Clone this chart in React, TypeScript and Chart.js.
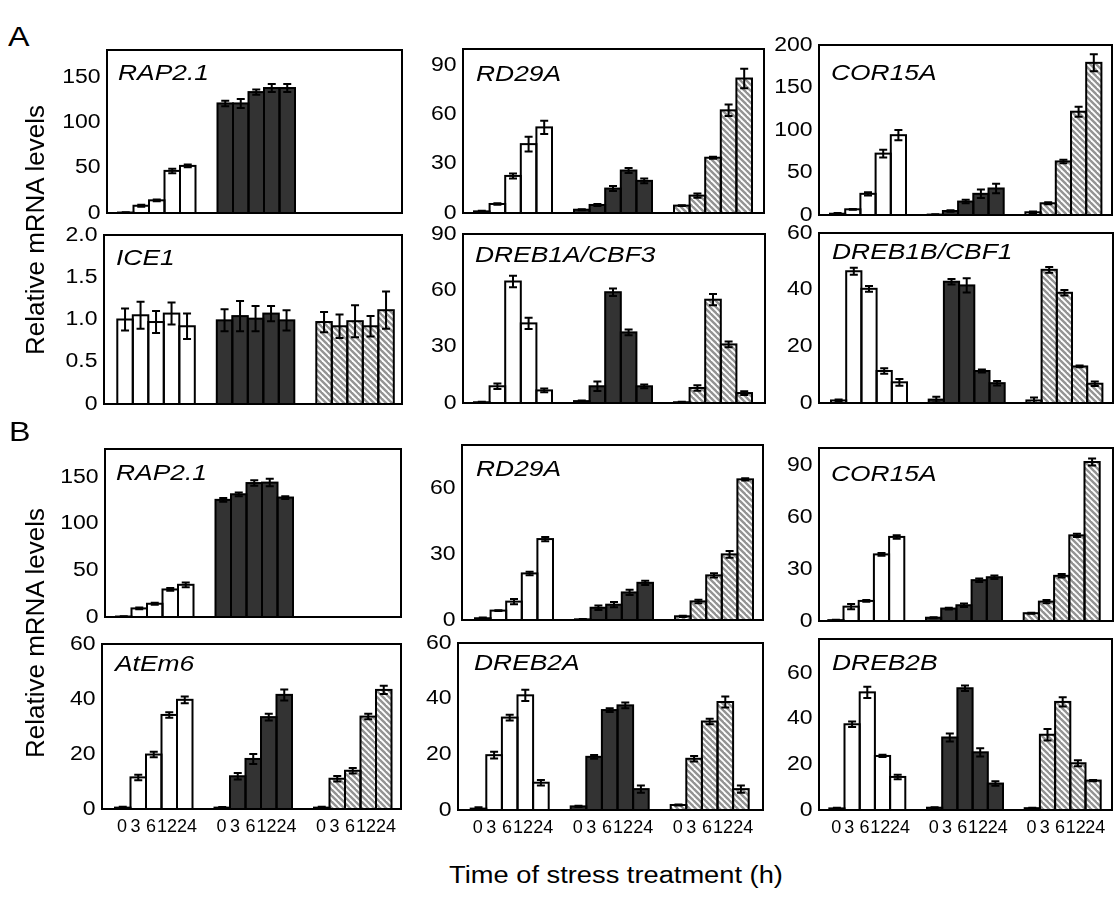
import React, { useEffect, useRef } from 'react';
import { Chart, registerables } from 'chart.js';

Chart.register(...registerables);

const FONT = '"Liberation Sans", Arial, Helvetica, sans-serif';

// ---------- data ----------
const TIME_LABELS = ['0', '3', '6', '12', '24'];
const TREATMENTS = ['white', 'dark', 'hatched'];
const NONE = [null, null, null, null, null];

// A: RAP2.1
const A_RAP21_MEANS = [[0.5, 8, 14, 46.5, 52], [121, 121, 133.5, 138, 138], NONE];
const A_RAP21_ERR = [[0.3, 1.2, 1, 2.5, 1.5], [3, 5, 3, 4.5, 4.5], NONE];
// A: RD29A
const A_RD29A_MEANS = [[1, 5.5, 22.6, 42, 52.2], [2, 4.9, 14.9, 25.9, 19.6], [4.5, 10.6, 33.7, 62.6, 82]];
const A_RD29A_ERR = [[0.3, 0.5, 1.5, 4.5, 4], [0.3, 0.6, 1.5, 1.5, 1.5], [0.3, 1.3, 0.6, 3.5, 6]];
// A: COR15A
const A_COR15A_MEANS = [[1.5, 6.7, 24.9, 72.2, 93.9], [0.5, 4.7, 15.8, 24.9, 31.2], [3.2, 13.8, 63, 121.5, 179]];
const A_COR15A_ERR = [[0.8, 0.5, 2, 4.5, 6], [0.3, 0.8, 2, 5, 5.5], [1, 1.2, 2, 6, 10]];
// A: ICE1
const A_ICE1_MEANS = [[1.0, 1.05, 0.97, 1.07, 0.92], [0.99, 1.04, 1.01, 1.07, 0.99], [0.97, 0.92, 0.98, 0.92, 1.11]];
const A_ICE1_ERR = [[0.13, 0.16, 0.13, 0.13, 0.15], [0.13, 0.18, 0.15, 0.09, 0.12], [0.12, 0.14, 0.19, 0.12, 0.22]];
// A: DREB1A/CBF3
const A_DREB1A_MEANS = [[0.4, 8.9, 64.7, 42.4, 6.7], [1, 8.9, 59, 37.6, 8.9], [0.4, 8, 55, 31.2, 5.3]];
const A_DREB1A_ERR = [[0.3, 1.5, 3, 3, 1], [0.3, 2.5, 2, 1.5, 1], [0.3, 1.5, 3, 1.5, 1]];
// A: DREB1B/CBF1
const A_DREB1B_MEANS = [[0.9, 46.5, 40.3, 11.3, 7.3], [1.2, 42.8, 41.5, 11.3, 7], [0.9, 47, 38.9, 12.9, 6.8]];
const A_DREB1B_ERR = [[0.3, 1.2, 1, 1, 1.2], [1, 1, 2.5, 0.5, 0.8], [1, 1, 1, 0.3, 0.8]];
// B: RAP2.1
const B_RAP21_MEANS = [[0.5, 9.2, 14.2, 29.5, 34.5], [125.5, 131.5, 143.5, 144, 128], NONE];
const B_RAP21_ERR = [[0.3, 1, 1, 1.5, 2.5], [2, 2, 3, 4, 1.5], NONE];
// B: RD29A
const B_RD29A_MEANS = [[0.8, 4.3, 8.4, 21.3, 37], [0.3, 5.6, 7, 12.6, 17], [1.7, 8.5, 20.4, 30, 64.3]];
const B_RD29A_ERR = [[0.3, 0.2, 1.2, 0.8, 1], [0.2, 1, 1.2, 1.2, 1], [0.3, 0.8, 1, 1.5, 0.5]];
// B: COR15A
const B_COR15A_MEANS = [[0.5, 8.3, 11.6, 38.5, 48.6], [1.9, 7.2, 9.1, 23.6, 25.3], [4.5, 11.2, 26.1, 49.5, 91.9]];
const B_COR15A_ERR = [[0.2, 1.5, 0.5, 0.8, 1], [0.3, 0.5, 1, 1, 1], [0.3, 1, 1, 1, 2]];
// B: AtEm6
const B_ATEM6_MEANS = [[0.5, 11.5, 19.8, 34.2, 39.7], [0.5, 11.9, 18.2, 33.4, 41.5], [0.5, 11, 13.9, 33.6, 43.3]];
const B_ATEM6_ERR = [[0.3, 1, 1, 1, 1.2], [0.2, 1.2, 1.8, 1.2, 2], [0.3, 1, 1, 1, 1.5]];
// B: DREB2A
const B_DREB2A_MEANS = [[0.5, 19.7, 33.2, 41.2, 9.8], [1.3, 19.1, 35.9, 37.6, 7.5], [1.8, 18.4, 31.8, 38.8, 7.5]];
const B_DREB2A_ERR = [[0.5, 1.2, 1, 2, 1], [0.2, 0.7, 0.7, 1, 1.3], [0.2, 1, 1, 2, 1.3]];
// B: DREB2B
const B_DREB2B_MEANS = [[0.7, 37.6, 51.6, 23.7, 14.5], [1, 31.8, 53.4, 25.3, 11.6], [0.8, 33, 47.4, 20.5, 12.9]];
const B_DREB2B_ERR = [[0.3, 1.2, 2.5, 0.5, 1], [0.2, 1.8, 1.2, 1.8, 1], [0.2, 2.5, 2, 1.3, 0.3]];

// y-axis ticks
const TICKS_150 = [0, 50, 100, 150];
const TICKS_90 = [0, 30, 60, 90];
const TICKS_60_30 = [0, 30, 60];
const TICKS_200 = [0, 50, 100, 150, 200];
const TICKS_ICE1 = [0, 0.5, 1.0, 1.5, 2.0];
const TICKS_60 = [0, 20, 40, 60];

const PANELS = [
  { gene: 'RAP2.1', means: A_RAP21_MEANS, errs: A_RAP21_ERR, yMax: 180, ticks: TICKS_150, dec: 0 },
  { gene: 'RD29A', means: A_RD29A_MEANS, errs: A_RD29A_ERR, yMax: 100, ticks: TICKS_90, dec: 0 },
  { gene: 'COR15A', means: A_COR15A_MEANS, errs: A_COR15A_ERR, yMax: 200, ticks: TICKS_200, dec: 0 },
  { gene: 'ICE1', means: A_ICE1_MEANS, errs: A_ICE1_ERR, yMax: 2, ticks: TICKS_ICE1, dec: 1 },
  { gene: 'DREB1A/CBF3', means: A_DREB1A_MEANS, errs: A_DREB1A_ERR, yMax: 90, ticks: TICKS_90, dec: 0 },
  { gene: 'DREB1B/CBF1', means: A_DREB1B_MEANS, errs: A_DREB1B_ERR, yMax: 60, ticks: TICKS_60, dec: 0 },
  { gene: 'RAP2.1', means: B_RAP21_MEANS, errs: B_RAP21_ERR, yMax: 180, ticks: TICKS_150, dec: 0 },
  { gene: 'RD29A', means: B_RD29A_MEANS, errs: B_RD29A_ERR, yMax: 80, ticks: TICKS_60_30, dec: 0 },
  { gene: 'COR15A', means: B_COR15A_MEANS, errs: B_COR15A_ERR, yMax: 100, ticks: TICKS_90, dec: 0 },
  { gene: 'AtEm6', means: B_ATEM6_MEANS, errs: B_ATEM6_ERR, yMax: 60, ticks: TICKS_60, dec: 0 },
  { gene: 'DREB2A', means: B_DREB2A_MEANS, errs: B_DREB2A_ERR, yMax: 60, ticks: TICKS_60, dec: 0 },
  { gene: 'DREB2B', means: B_DREB2B_MEANS, errs: B_DREB2B_ERR, yMax: 75, ticks: TICKS_60, dec: 0 },
];

// ---------- layout (pixels) ----------
const COLS = [
  { bw: 15.5, period: 99.5 },
  { bw: 15.6, period: 100 },
  { bw: 15.2, period: 97.7 },
];
// small horizontal nudges of the hour labels (px), as they sit in the figure
const TICK_NUDGE = [-0.75, -2.75, -2.75, -2.25, 2.25];
// box: l,t,r,b ; x0 = first bar left offset ; tdx/tdy = gene label offset
const LAYOUT = [
  { l: 107, t: 50, r: 402, b: 213, x0: 11, tdx: 11, tdy: 30 },
  { l: 463, t: 49, r: 764, b: 213, x0: 11, tdx: 13, tdy: 32 },
  { l: 819, t: 45, r: 1112, b: 215, x0: 11, tdx: 12, tdy: 35 },
  { l: 104, t: 235, r: 402, b: 404, x0: 13.3, tdx: 12, tdy: 30 },
  { l: 463, t: 234, r: 765, b: 403, x0: 11, tdx: 12, tdy: 28 },
  { l: 819, t: 233, r: 1113, b: 403, x0: 12, tdx: 13, tdy: 26 },
  { l: 105, t: 449, r: 401, b: 617, x0: 11, tdx: 11, tdy: 31 },
  { l: 462, t: 445, r: 763, b: 620, x0: 13, tdx: 14, tdy: 31 },
  { l: 819, t: 448, r: 1113, b: 621, x0: 9.3, tdx: 12, tdy: 33 },
  { l: 102, t: 644, r: 401, b: 809, x0: 13, tdx: 13, tdy: 27 },
  { l: 458, t: 643, r: 763, b: 810, x0: 12.7, tdx: 16, tdy: 27 },
  { l: 819, t: 639, r: 1112, b: 810, x0: 10.3, tdx: 13, tdy: 31 },
];

const YW = 70; // y axis width
const TP = 16; // top padding
const RP = 4;  // right padding
const STRETCH = 1.15; // the figure's lettering is slightly wide

function makeHatch(): CanvasPattern | string {
  const s = 6;
  const c = document.createElement('canvas');
  c.width = s;
  c.height = s;
  const g = c.getContext('2d');
  if (!g) return '#999';
  g.fillStyle = '#ffffff';
  g.fillRect(0, 0, s, s);
  g.strokeStyle = '#939393';
  g.lineWidth = 2.4;
  for (let k = -1; k <= 1; k++) {
    g.beginPath();
    g.moveTo(k * s - 1, -1);
    g.lineTo(k * s + s + 1, s + 1);
    g.stroke();
  }
  return g.createPattern(c, 'repeat') || '#999';
}

const decorPlugin = {
  id: 'panelDecor',
  afterDatasetsDraw(chart: any) {
    const ctx = chart.ctx;
    const yScale = chart.scales.y;
    ctx.save();
    ctx.strokeStyle = '#000';
    ctx.lineWidth = 2;
    chart.data.datasets.forEach((ds: any, di: number) => {
      const meta = chart.getDatasetMeta(di);
      meta.data.forEach((el: any, i: number) => {
        const v = ds.data[i].y;
        if (v == null) return;
        const p = el.getProps(['x', 'y', 'base', 'width'], true);
        ctx.strokeRect(p.x - p.width / 2, Math.min(p.y, p.base), p.width, Math.abs(p.base - p.y));
      });
    });
    chart.data.datasets.forEach((ds: any, di: number) => {
      const meta = chart.getDatasetMeta(di);
      meta.data.forEach((el: any, i: number) => {
        const v = ds.data[i].y;
        const e = ds.errors[i];
        if (v == null || e == null) return;
        const x = el.x;
        const yt = yScale.getPixelForValue(v + e);
        const yb = yScale.getPixelForValue(Math.max(0, v - e));
        ctx.beginPath();
        ctx.moveTo(x, yt);
        ctx.lineTo(x, yb);
        ctx.moveTo(x - 4, yt);
        ctx.lineTo(x + 4, yt);
        ctx.moveTo(x - 4, yb);
        ctx.lineTo(x + 4, yb);
        ctx.stroke();
      });
    });
    ctx.restore();
  },
  afterDraw(chart: any, _args: any, opts: any) {
    const { ctx, chartArea } = chart;
    const { left, top, right, bottom } = chartArea;
    const yScale = chart.scales.y;
    ctx.save();
    ctx.strokeStyle = '#000';
    ctx.lineWidth = 2;
    ctx.strokeRect(left, top, right - left, bottom - top);
    // y tick labels, placed by the y scale
    ctx.fillStyle = '#000';
    ctx.font = `20px ${FONT}`;
    ctx.textAlign = 'right';
    ctx.textBaseline = 'middle';
    yScale.ticks.forEach((t: any) => {
      const py = yScale.getPixelForValue(t.value);
      const txt = opts.dec && t.value !== 0 ? Number(t.value).toFixed(opts.dec) : String(t.value);
      ctx.save();
      ctx.translate(left - 6.5, py);
      ctx.scale(STRETCH, 1);
      ctx.fillText(txt, 0, 0);
      ctx.restore();
    });
    // gene name
    ctx.translate(left + opts.dx, top + opts.dy);
    ctx.scale(1.2, 1);
    ctx.font = `italic 22px ${FONT}`;
    ctx.textAlign = 'left';
    ctx.textBaseline = 'alphabetic';
    ctx.fillText(opts.title, 0, 0);
    ctx.restore();
  },
};

function Panel({ index }: { index: number }) {
  const ref = useRef<HTMLCanvasElement | null>(null);
  const panel = PANELS[index];
  const lay = LAYOUT[index];
  const col = COLS[index % 3];
  const bottomRow = index >= 9;
  const XH = bottomRow ? 34 : 14;
  const boxW = lay.r - lay.l;
  const boxH = lay.b - lay.t;
  const W = YW + boxW + RP;
  const H = TP + boxH + XH;

  useEffect(() => {
    if (!ref.current) return;
    const hatch = makeHatch();
    const fills = ['#ffffff', '#333333', hatch];
    const groupStep = col.period / col.bw;
    const xMin = -(lay.x0 / col.bw) - 0.5;
    const xMax = xMin + boxW / col.bw;
    const tickVals: number[] = [];
    TREATMENTS.forEach((_, g) =>
      TIME_LABELS.forEach((__, i) => tickVals.push(g * groupStep + i + TICK_NUDGE[i] / col.bw)),
    );

    const datasets = TREATMENTS.map((name, g) => ({
      label: name,
      data: TIME_LABELS.map((_, i) => ({ x: g * groupStep + i, y: panel.means[g][i] })),
      errors: panel.errs[g],
      backgroundColor: fills[g],
      borderWidth: 0,
      grouped: false,
      barThickness: col.bw,
    })).filter((ds) => ds.data.some((d) => d.y != null));

    const chart = new Chart(ref.current, {
      type: 'bar',
      data: { datasets: datasets as any },
      plugins: [decorPlugin as any],
      options: {
        animation: false,
        responsive: false,
        devicePixelRatio: 1,
        layout: { padding: { top: TP, right: RP, left: 0, bottom: 0 } },
        plugins: {
          legend: { display: false },
          tooltip: { enabled: false },
          panelDecor: { title: panel.gene, dx: lay.tdx, dy: lay.tdy, dec: panel.dec },
        } as any,
        scales: {
          x: {
            type: 'linear',
            min: xMin,
            max: xMax,
            offset: false,
            grid: { display: false, drawTicks: false },
            border: { display: false },
            afterBuildTicks: (s: any) => {
              s.ticks = tickVals.map((v) => ({ value: v }));
            },
            afterFit: (s: any) => {
              s.height = XH;
            },
            ticks: {
              display: bottomRow,
              autoSkip: false,
              maxRotation: 0,
              minRotation: 0,
              padding: 7,
              color: '#000',
              font: { family: FONT, size: 18 },
              callback: (_v: any, i: number) => TIME_LABELS[i % TIME_LABELS.length],
            },
          },
          y: {
            min: 0,
            max: panel.yMax,
            grid: { display: false, drawTicks: false },
            border: { display: false },
            afterBuildTicks: (s: any) => {
              s.ticks = panel.ticks.map((v) => ({ value: v }));
            },
            afterFit: (s: any) => {
              s.width = YW;
            },
            ticks: { display: false },
          },
        },
      } as any,
    });
    return () => chart.destroy();
  }, [index]);

  return (
    <div style={{ position: 'absolute', left: lay.l - YW, top: lay.t - TP, width: W, height: H }}>
      <canvas ref={ref} width={W} height={H} style={{ width: W, height: H, display: 'block' }} />
    </div>
  );
}

function Label({ text, left, top, size }: { text: string; left: number; top: number; size: number }) {
  return (
    <div
      style={{
        position: 'absolute',
        left,
        top,
        fontSize: size,
        lineHeight: `${size}px`,
        fontFamily: FONT,
        whiteSpace: 'nowrap',
        color: '#000',
        transform: `scaleX(${STRETCH})`,
        transformOrigin: 'left top',
      }}
    >
      {text}
    </div>
  );
}

function YTitle({ cx, cy }: { cx: number; cy: number }) {
  return (
    <div
      style={{
        position: 'absolute',
        left: cx,
        top: cy,
        fontSize: 26,
        lineHeight: '26px',
        fontFamily: FONT,
        whiteSpace: 'nowrap',
        color: '#000',
        transform: 'translate(-50%, -50%) rotate(-90deg)',
      }}
    >
      Relative mRNA levels
    </div>
  );
}

export default function App() {
  return (
    <div
      style={{
        position: 'absolute',
        left: 0,
        top: 0,
        width: 1120,
        height: 920,
        background: '#fff',
        overflow: 'hidden',
      }}
    >
      {PANELS.map((_, i) => (
        <Panel key={i} index={i} />
      ))}
      <Label text="A" left={8} top={23} size={28} />
      <Label text="B" left={9} top={418} size={28} />
      <YTitle cx={35} cy={230} />
      <YTitle cx={35} cy={633} />
      <div
        style={{
          position: 'absolute',
          left: 616,
          top: 864,
          fontSize: 23.5,
          lineHeight: '23.5px',
          fontFamily: FONT,
          whiteSpace: 'nowrap',
          color: '#000',
          transform: 'translateX(-50%) scaleX(1.16)',
        }}
      >
        Time of stress treatment (h)
      </div>
    </div>
  );
}
